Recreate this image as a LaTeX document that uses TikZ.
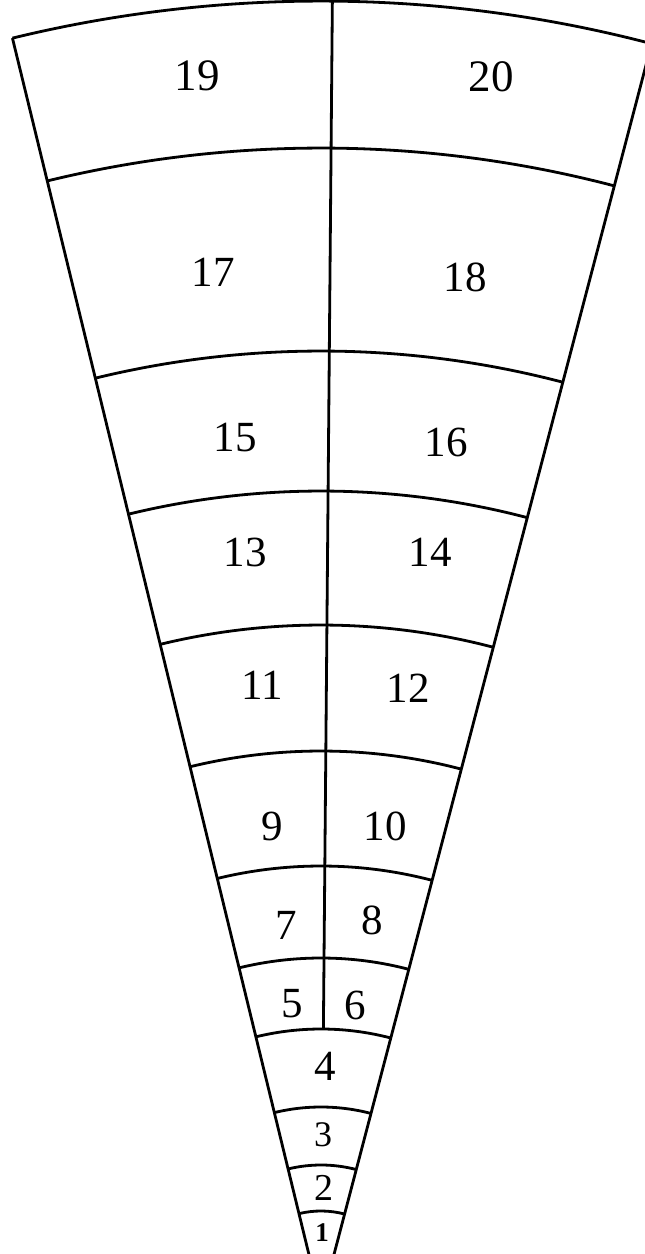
\documentclass[tikz,border=0pt]{standalone}
\usepackage{fontspec}
\setmainfont{Liberation Serif}
\begin{document}
\begin{tikzpicture}[x=1pt,y=1pt, line join=round,
  edge/.style={line width=2.8pt},
  lab/.style={inner sep=0pt, font=\fontsize{43}{43}\selectfont}]
\useasboundingbox (0,0) rectangle (645,1254);
\clip (0,0) rectangle (645,1254);
\coordinate (A) at (321,-50);
\def\rl{103.7}\def\rr{75.3}\def\ax{89.5}
\draw[edge] (A) -- ++(\rl:1303);
\draw[edge] (A) -- ++(\rr:1303);
\foreach \r in {93,139,197,275,346,438,553,679,813,953,1156,1303}
  \draw[edge] (A) ++(\rr:\r) arc[start angle=\rr, end angle=\rl, radius=\r];
\draw[edge] (A) ++(\ax:275) -- ++(\ax:1028);
\node[lab, font=\fontsize{45}{45}\selectfont] (n19) at (197,1178) {19};
\node[lab, font=\fontsize{45}{45}\selectfont] (n20) at (491,1177) {20};
\node[lab] (n17) at (213,982) {17};
\node[lab] (n18) at (465,977) {18};
\node[lab] (n15) at (235,816) {15};
\node[lab] (n16) at (446,812) {16};
\node[lab] (n13) at (245,702) {13};
\node[lab] (n14) at (430,702) {14};
\node[lab] (n11) at (262,569) {11};
\node[lab] (n12) at (408,566) {12};
\node[lab] (n9) at (272,428) {9};
\node[lab] (n10) at (385,428) {10};
\node[lab] (n7) at (286,329) {7};
\node[lab] (n8) at (372,334) {8};
\node[lab] (n5) at (292,250) {5};
\node[lab] (n6) at (355,249) {6};
\node[lab] (n4) at (325,188) {4};
\node[lab, font=\fontsize{36}{36}\selectfont] (n3) at (323,119) {3};
\node[lab, font=\fontsize{38}{38}\selectfont] (n2) at (324,66) {2};
\node[lab, font=\fontsize{27}{27}\bfseries\selectfont] (n1) at (322,21) {1};
\end{tikzpicture}
\end{document}
